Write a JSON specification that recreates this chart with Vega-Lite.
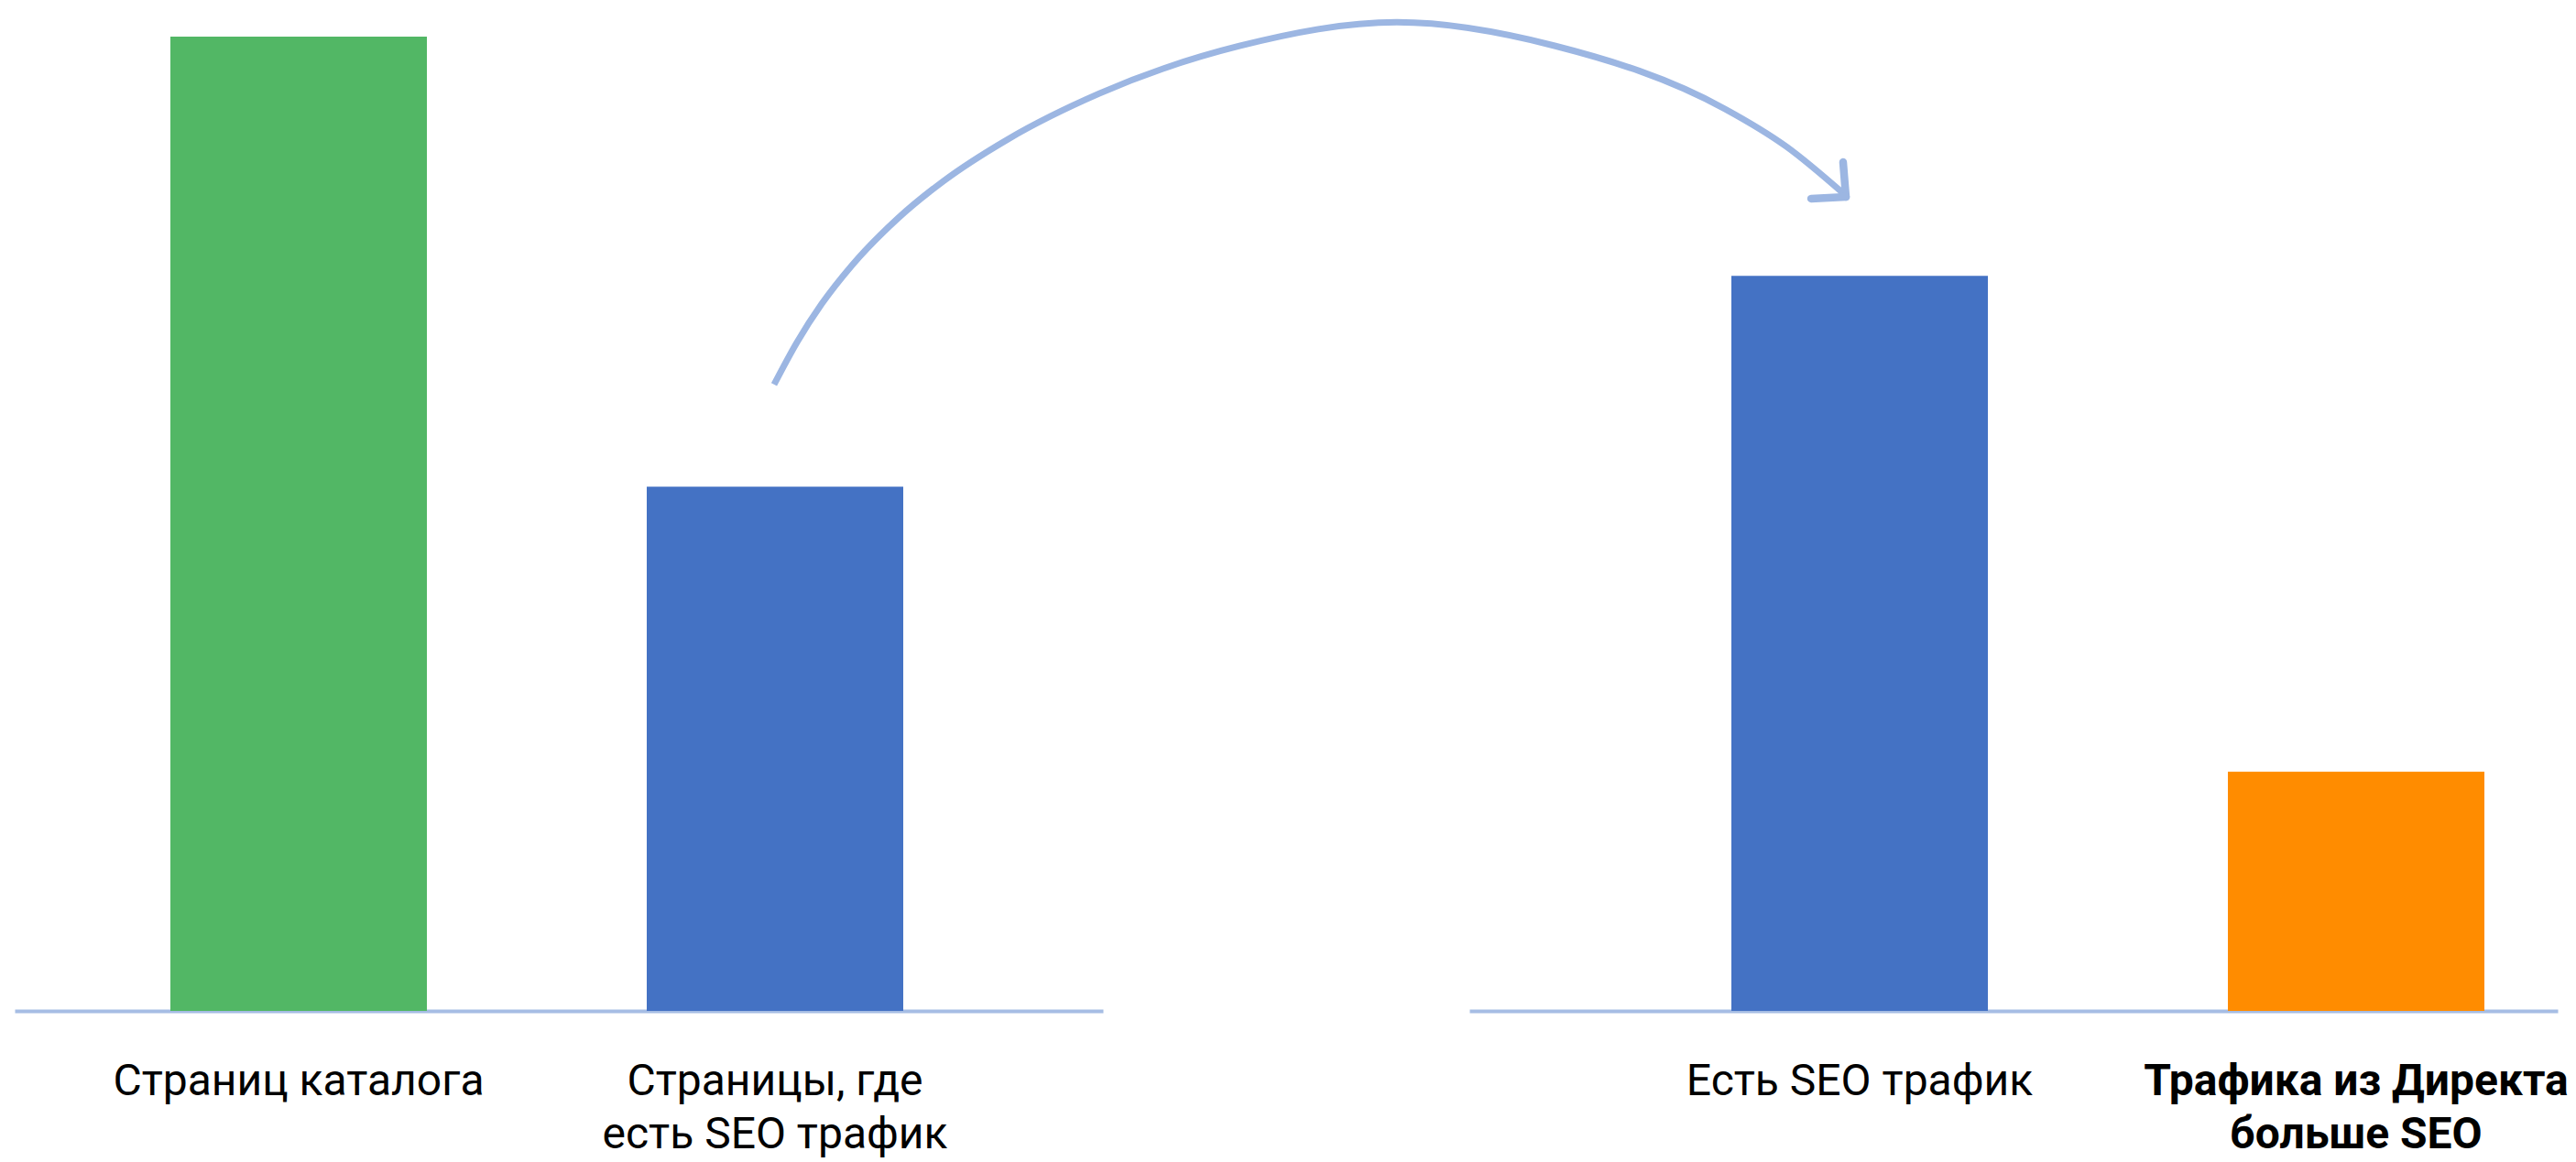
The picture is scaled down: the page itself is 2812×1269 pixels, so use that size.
{
  "$schema": "https://vega.github.io/schema/vega-lite/v6.json",
  "autosize": {"type": "pad"},
  "padding": {"left": 16, "top": 0, "right": 0, "bottom": 20},
  "background": "white",
  "bounds": "flush",
  "spacing": 400,
  "config": {
    "view": {"stroke": null},
    "font": "Roboto",
    "axis": {
      "domainColor": "#a6bde4",
      "domainWidth": 4,
      "ticks": false,
      "tickSize": 0,
      "grid": false,
      "labelFont": "Roboto",
      "labelFontSize": 48,
      "labelColor": "#000000",
      "labelPadding": 53,
      "labelLineHeight": 58,
      "labelLimit": 1000,
      "labelOverlap": false,
      "labelAngle": 0,
      "title": null
    }
  },
  "datasets": {
    "bars": [
      {"panel": "left", "label": "Страниц каталога", "value": 100},
      {"panel": "left", "label": "Страницы, где\nесть SEO трафик", "value": 53.81},
      {"panel": "right", "label": "Есть SEO трафик", "value": 75.45},
      {"panel": "right", "label": "Трафика из Директа\nбольше SEO", "value": 24.55}
    ],
    "arrow": [
      {"part": "curve", "i": 0, "ax": 69.78, "ay": 64.29},
      {"part": "curve", "i": 1, "ax": 71.89, "ay": 68.63},
      {"part": "curve", "i": 2, "ax": 74.16, "ay": 72.57},
      {"part": "curve", "i": 3, "ax": 76.94, "ay": 76.53},
      {"part": "curve", "i": 4, "ax": 81.14, "ay": 81.33},
      {"part": "curve", "i": 5, "ax": 85.35, "ay": 85.18},
      {"part": "curve", "i": 6, "ax": 91.25, "ay": 89.46},
      {"part": "curve", "i": 7, "ax": 99.66, "ay": 94.16},
      {"part": "curve", "i": 8, "ax": 112.54, "ay": 99.04},
      {"part": "curve", "i": 9, "ax": 127.02, "ay": 101.47},
      {"part": "curve", "i": 10, "ax": 141.5, "ay": 99.06},
      {"part": "curve", "i": 11, "ax": 157.15, "ay": 92.58},
      {"part": "curve", "i": 12, "ax": 162.79, "ay": 88.72},
      {"part": "curve", "i": 13, "ax": 168.1, "ay": 83.84},
      {"part": "arm1", "i": 0, "ax": 168.01, "ay": 87.12},
      {"part": "arm1", "i": 1, "ax": 168.27, "ay": 83.55},
      {"part": "arm2", "i": 0, "ax": 165.07, "ay": 83.37},
      {"part": "arm2", "i": 1, "ax": 168.27, "ay": 83.55}
    ]
  },
  "resolve": {"scale": {"color": "independent"}},
  "hconcat": [
    {
      "width": 1188,
      "height": 1104,
      "layer": [
        {
          "data": {"name": "bars"},
          "transform": [{"filter": "datum.panel == 'left'"}],
          "mark": {"type": "bar"},
          "encoding": {
            "x": {
              "field": "label", "type": "nominal", "sort": null,
              "scale": {"paddingInner": 0.461538, "paddingOuter": 0.373077, "align": 0.43814},
              "axis": {"labelExpr": "split(datum.label, '\\n')"}
            },
            "y": {
              "field": "value", "type": "quantitative",
              "scale": {"domain": [0, 103.76], "nice": false, "zero": true},
              "axis": null
            },
            "color": {
              "field": "label", "type": "nominal",
              "scale": {"domain": ["Страниц каталога", "Страницы, где\nесть SEO трафик"], "range": ["#52b765", "#4472c4"]},
              "legend": null
            }
          }
        },
        {
          "data": {"name": "arrow"},
          "transform": [{"filter": "datum.part == 'curve'"}],
          "mark": {"type": "line", "color": "#9cb6e2", "strokeWidth": 7, "strokeCap": "butt", "strokeJoin": "round", "interpolate": "monotone", "clip": false},
          "encoding": {
            "x": {"field": "ax", "type": "quantitative", "scale": {"domain": [0, 100], "nice": false, "zero": false}, "axis": null},
            "y": {"field": "ay", "type": "quantitative", "axis": null},
            "order": {"field": "i", "type": "quantitative"}
          }
        },
        {
          "data": {"name": "arrow"},
          "transform": [{"filter": "datum.part != 'curve'"}],
          "mark": {"type": "line", "color": "#9cb6e2", "strokeWidth": 8.5, "strokeCap": "round", "strokeJoin": "round", "clip": false},
          "encoding": {
            "x": {"field": "ax", "type": "quantitative", "scale": {"domain": [0, 100], "nice": false, "zero": false}, "axis": null},
            "y": {"field": "ay", "type": "quantitative", "axis": null},
            "detail": {"field": "part", "type": "nominal"},
            "order": {"field": "i", "type": "quantitative"}
          }
        }
      ],
      "resolve": {"scale": {"x": "independent"}, "axis": {"x": "independent"}}
    },
    {
      "width": 1188,
      "height": 1104,
      "data": {"name": "bars"},
      "transform": [{"filter": "datum.panel == 'right'"}],
      "mark": {"type": "bar"},
      "encoding": {
        "x": {
          "field": "label", "type": "nominal", "sort": null,
          "scale": {"paddingInner": 0.48339, "paddingOuter": 0.33764, "align": 0.7814},
          "axis": {
            "labelExpr": "split(datum.label, '\\n')",
            "labelFontWeight": {"condition": {"test": "indexof(datum.value, 'Директа') >= 0", "value": "bold"}, "value": "normal"}
          }
        },
        "y": {
          "field": "value", "type": "quantitative",
          "scale": {"domain": [0, 103.76], "nice": false, "zero": true},
          "axis": null
        },
        "color": {
          "field": "label", "type": "nominal",
          "scale": {"domain": ["Есть SEO трафик", "Трафика из Директа\nбольше SEO"], "range": ["#4472c4", "#ff8c00"]},
          "legend": null
        }
      }
    }
  ]
}
